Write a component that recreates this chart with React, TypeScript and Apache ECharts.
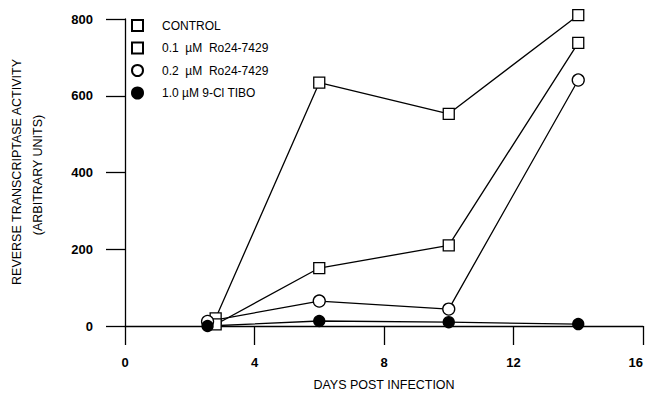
import React, { useEffect, useRef } from "react";
import * as echarts from "echarts";

const seriesNames = [
  "CONTROL",
  "0.1  \u00b5M  Ro24-7429",
  "0.2  \u00b5M  Ro24-7429",
  "1.0 \u00b5M 9-Cl TIBO",
];
const controlData: [number, number][] = [[2.8, 20], [6, 634], [10, 553], [14, 810]];
const ro01Data: [number, number][] = [[2.8, 4], [6, 151], [10, 210], [14, 738]];
const ro02Data: [number, number][] = [[2.55, 12], [6, 65], [10, 44], [14, 641]];
const tiboData: [number, number][] = [[2.55, 0], [6, 13], [10, 10], [14, 5]];
const xTicks = [0, 4, 8, 12, 16];
const yTicks = [0, 200, 400, 600, 800];
const yTitleLines = ["REVERSE TRANSCRIPTASE ACTIVITY", "(ARBITRARY UNITS)"];
const xTitle = "DAYS POST INFECTION";

const FONT = "'Liberation Sans', Arial, Helvetica, sans-serif";

export default function App() {
  const ref = useRef<HTMLDivElement>(null);
  useEffect(() => {
    if (!ref.current) return;
    const chart = echarts.init(ref.current, undefined, { renderer: "svg" });
    const lineStyle = { color: "#000", width: 1.3 };
    const mk = (name: string, data: [number, number][], symbol: string, size: number, fill: string) => ({
      name,
      type: "line",
      data,
      symbol,
      symbolSize: size,
      showAllSymbol: true,
      clip: false,
      lineStyle,
      itemStyle: { color: fill, borderColor: "#000", borderWidth: 1.3 },
      z: 3,
    });
    chart.setOption({
      animation: false,
      backgroundColor: "#fff",
      textStyle: { fontFamily: FONT, color: "#000" },
      grid: { left: 125, right: 5, top: 19, bottom: 67, containLabel: false, outerBoundsMode: "none" },
      legend: {
        orient: "vertical",
        left: 126,
        top: 14,
        itemWidth: 11,
        itemHeight: 11,
        itemGap: 9.5,
        textStyle: { fontFamily: FONT, fontSize: 12, color: "#000", padding: [0, 0, 0, 14] },
        data: [
          { name: seriesNames[0], icon: "rect" },
          { name: seriesNames[1], icon: "rect" },
          { name: seriesNames[2], icon: "circle" },
          { name: seriesNames[3], icon: "circle" },
        ],
      },
      graphic: [
        {
          type: "text",
          x: 17,
          y: 172,
          rotation: Math.PI / 2,
          style: {
            text: yTitleLines[0],
            fontFamily: FONT,
            fontSize: 12.5,
            fill: "#000",
            align: "center",
            verticalAlign: "middle",
          },
        },
        {
          type: "text",
          x: 38,
          y: 175,
          rotation: Math.PI / 2,
          style: {
            text: yTitleLines[1],
            fontFamily: FONT,
            fontSize: 12.5,
            fill: "#000",
            align: "center",
            verticalAlign: "middle",
          },
        },
      ],
      xAxis: {
        type: "value",
        min: xTicks[0],
        max: xTicks[xTicks.length - 1],
        interval: 4,
        name: xTitle,
        nameLocation: "middle",
        nameGap: 52,
        nameTextStyle: { fontFamily: FONT, fontSize: 12.5, color: "#000" },
        axisLine: { lineStyle: { color: "#000", width: 1.3 } },
        axisTick: { inside: false, length: 19, lineStyle: { color: "#000", width: 1.3 } },
        axisLabel: {
          margin: 30,
          alignMaxLabel: "right",
          fontFamily: FONT,
          fontSize: 13,
          fontWeight: "bold",
          color: "#000",
        },
        splitLine: { show: false },
      },
      yAxis: {
        type: "value",
        min: yTicks[0],
        max: yTicks[yTicks.length - 1],
        interval: 200,
        axisLine: { show: true, lineStyle: { color: "#000", width: 1.3 } },
        axisTick: { show: true, inside: false, length: 19, lineStyle: { color: "#000", width: 1.3 } },
        axisLabel: { margin: 32, fontFamily: FONT, fontSize: 13, fontWeight: "bold", color: "#000" },
        splitLine: { show: false },
      },
      series: [
        mk(seriesNames[0], controlData, "rect", 11, "#fff"),
        mk(seriesNames[1], ro01Data, "rect", 11, "#fff"),
        mk(seriesNames[2], ro02Data, "circle", 12, "#fff"),
        mk(seriesNames[3], tiboData, "circle", 11, "#000"),
      ],
    });
    return () => chart.dispose();
  }, []);
  return (
    <div
      ref={ref}
      style={{ position: "fixed", left: 0, top: 0, width: 648, height: 393, background: "#fff" }}
    />
  );
}
